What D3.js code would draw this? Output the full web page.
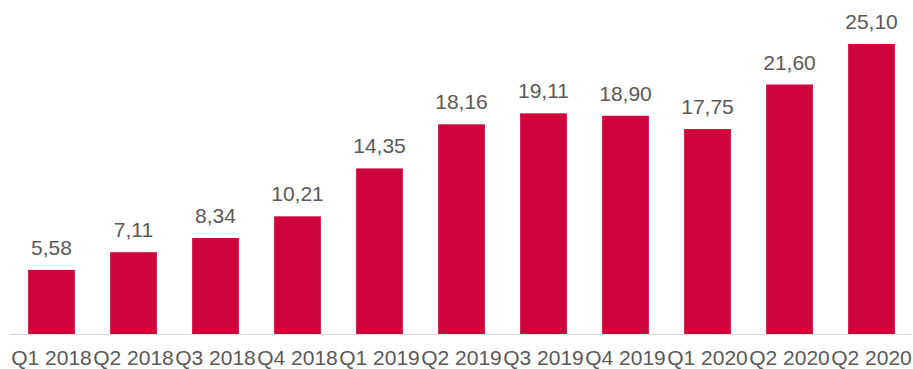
<!DOCTYPE html>
<html>
<head>
<meta charset="utf-8">
<script src="https://cdn.jsdelivr.net/npm/d3@7"></script>
<style>
  html, body { margin: 0; padding: 0; background: #ffffff; }
  svg { display: block; }
</style>
</head>
<body>
<svg id="chart" width="913" height="369"></svg>
<script>
// Quarter categories and values (decimal comma in labels)
const quarters = ["Q1 2018", "Q2 2018", "Q3 2018", "Q4 2018", "Q1 2019", "Q2 2019",
                  "Q3 2019", "Q4 2019", "Q1 2020", "Q2 2020", "Q2 2020"];
const values = [5.58, 7.11, 8.34, 10.21, 14.35, 18.16, 19.11, 18.90, 17.75, 21.60, 25.10];

const BAR_COLOR = "#d0043c";
const TEXT_COLOR = "#595959";

const svg = d3.select("#chart");
const baseY = 334.5;

// use index as band key since the last two labels repeat
const x = d3.scaleBand()
    .domain(d3.range(values.length))
    .range([10.5, 912.5])
    .paddingInner(0.43)
    .paddingOuter(0.215);

const y = d3.scaleLinear()
    .domain([0, 25.10])
    .range([baseY, 44]);

const fmt = function (v) { return v.toFixed(2).replace(".", ","); };

// bars
svg.append("g")
    .selectAll("rect")
    .data(values)
    .enter()
    .append("rect")
    .attr("x", function (d, i) { return x(i); })
    .attr("y", function (d) { return y(d); })
    .attr("width", x.bandwidth())
    .attr("height", function (d) { return baseY - y(d); })
    .attr("fill", BAR_COLOR);

// baseline
svg.append("line")
    .attr("x1", 10).attr("x2", 912)
    .attr("y1", baseY).attr("y2", baseY)
    .attr("stroke", "#d9d9d9")
    .attr("stroke-width", 1);

// value labels
svg.append("g")
    .selectAll("text")
    .data(values)
    .enter()
    .append("text")
    .attr("x", function (d, i) { return x(i) + x.bandwidth() / 2; })
    .attr("y", function (d) { return y(d) - 15; })
    .attr("text-anchor", "middle")
    .attr("font-family", "Liberation Sans, Arial, sans-serif")
    .attr("font-size", "21px")
    .attr("fill", TEXT_COLOR)
    .text(fmt);

// category labels
svg.append("g")
    .selectAll("text")
    .data(quarters)
    .enter()
    .append("text")
    .attr("x", function (d, i) { return x(i) + x.bandwidth() / 2; })
    .attr("y", 365)
    .attr("text-anchor", "middle")
    .attr("font-family", "Liberation Sans, Arial, sans-serif")
    .attr("font-size", "21px")
    .attr("fill", TEXT_COLOR)
    .text(function (d) { return d; });
</script>
</body>
</html>
